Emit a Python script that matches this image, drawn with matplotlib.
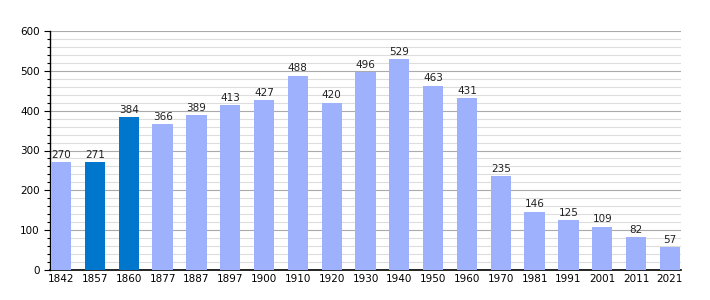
import matplotlib
matplotlib.use("Agg")
import matplotlib.pyplot as plt
from matplotlib.ticker import MultipleLocator

# Population by census year
years = ["1842", "1857", "1860", "1877", "1887", "1897", "1900", "1910", "1920", "1930",
         "1940", "1950", "1960", "1970", "1981", "1991", "2001", "2011", "2021"]
population = [270, 271, 384, 366, 389, 413, 427, 488, 420, 496,
              529, 463, 431, 235, 146, 125, 109, 82, 57]
highlighted = ["1857", "1860"]

light = "#9db1fc"
dark = "#0077cc"

fig = plt.figure(figsize=(7.1, 3.0), dpi=100)
ax = fig.add_axes([50 / 710, 30 / 300, 631 / 710, 239 / 300])

x = list(range(len(years)))
colors = [dark if y in highlighted else light for y in years]
ax.bar(x, population, width=0.6, color=colors, zorder=3)

for xi, v in zip(x, population):
    ax.text(xi, v + 6, str(v), ha="center", va="bottom", fontsize=7.5, color="#222222")

ax.set_xlim(-0.33, len(years) - 0.67)
ax.set_ylim(0, 600)
ax.set_xticks(x)
ax.set_xticklabels(years, fontsize=7.5)
ax.yaxis.set_major_locator(MultipleLocator(100))
ax.yaxis.set_minor_locator(MultipleLocator(20))
ax.tick_params(axis="y", labelsize=7.5, length=4, width=0.8)
ax.tick_params(axis="y", which="minor", length=2.5, width=0.8)
ax.tick_params(axis="x", length=0, pad=3)

# Grid lines: darker every 100, lighter every 20
ax.grid(axis="y", which="major", color="#aaaaaa", linewidth=0.8, zorder=0)
ax.grid(axis="y", which="minor", color="#dddddd", linewidth=0.8, zorder=0)

for side in ("top", "right"):
    ax.spines[side].set_visible(False)
ax.spines["left"].set_linewidth(1.0)
ax.spines["bottom"].set_linewidth(1.2)

fig.savefig("out.png", dpi=100)
